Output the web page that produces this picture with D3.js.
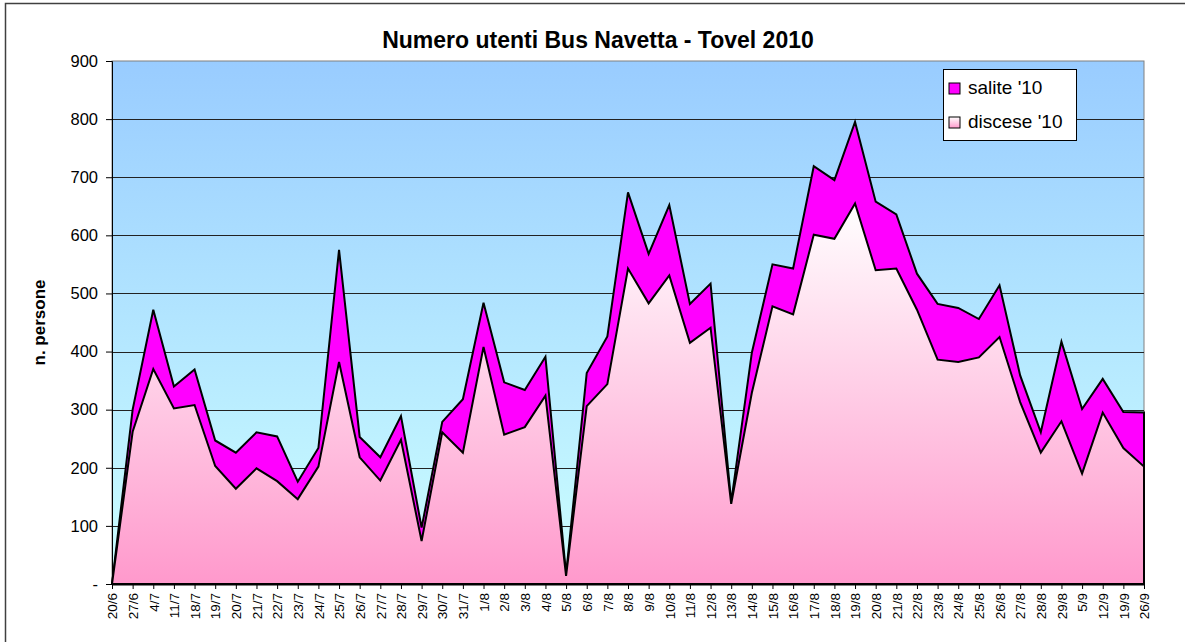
<!DOCTYPE html>
<html>
<head>
<meta charset="utf-8">
<script src="https://cdn.jsdelivr.net/npm/d3@7"></script>
<style>
  html, body { margin: 0; padding: 0; background: #fff; }
  svg { display: block; font-family: Arial, "Liberation Sans", sans-serif; }
</style>
</head>
<body>
<script>
const dates = ['20/6', '27/6', '4/7', '11/7', '18/7', '19/7', '20/7', '21/7', '22/7', '23/7',
  '24/7', '25/7', '26/7', '27/7', '28/7', '29/7', '30/7', '31/7', '1/8', '2/8', '3/8', '4/8',
  '5/8', '6/8', '7/8', '8/8', '9/8', '10/8', '11/8', '12/8', '13/8', '14/8', '15/8', '16/8',
  '17/8', '18/8', '19/8', '20/8', '21/8', '22/8', '23/8', '24/8', '25/8', '26/8', '27/8',
  '28/8', '29/8', '5/9', '12/9', '19/9', '26/9'];

// upper outline of the chart
const salite = [0, 300, 472, 340, 369, 247, 226, 261, 254, 176,
  234, 575, 253, 218, 289, 97, 279, 318, 484, 347, 334, 391,
  17, 363, 426, 674, 568, 652, 482, 517, 141, 398, 550, 543,
  719, 695, 795, 658, 636, 534, 482, 475, 456, 514, 359,
  261, 417, 301, 353, 296, 295];

const discese = [0, 262, 370, 302, 308, 203, 164, 199, 177, 146,
  202, 382, 218, 178, 248, 74, 261, 226, 408, 257, 270, 324,
  14, 306, 344, 543, 483, 531, 415, 441, 138, 329, 478, 464,
  601, 594, 655, 540, 543, 472, 386, 382, 390, 425, 313,
  226, 280, 190, 295, 234, 202];

const yTicks = [0, 100, 200, 300, 400, 500, 600, 700, 800, 900];

const series = [
  { name: "salite '10", values: salite, fill: '#FF00FF' },
  { name: "discese '10", values: discese, fill: 'url(#pinkGrad)' },
];

const W = 1185, H = 642;
const plot = { left: 112, right: 1144, top: 61, bottom: 584 };

const svg = d3.select('body').append('svg')
  .attr('width', W)
  .attr('height', H);

const defs = svg.append('defs');
const bg = defs.append('linearGradient')
  .attr('id', 'skyGrad').attr('x1', 0).attr('y1', 0).attr('x2', 0).attr('y2', 1);
bg.append('stop').attr('offset', '0%').attr('stop-color', '#99CCFF');
bg.append('stop').attr('offset', '100%').attr('stop-color', '#CCFFFF');

const pink = defs.append('linearGradient')
  .attr('id', 'pinkGrad').attr('x1', 0).attr('y1', 0).attr('x2', 0).attr('y2', 1);
pink.append('stop').attr('offset', '0%').attr('stop-color', '#FFFFFF');
pink.append('stop').attr('offset', '100%').attr('stop-color', '#FF99CC');

// outer frame (right and bottom sides fall outside the picture)
svg.append('rect')
  .attr('x', 5.5).attr('y', 3.5)
  .attr('width', W + 40).attr('height', H + 40)
  .attr('fill', 'none')
  .attr('stroke', '#404040')
  .attr('stroke-width', 1.5);

const x = d3.scalePoint()
  .domain(dates)
  .range([plot.left, plot.right]);

const y = d3.scaleLinear()
  .domain([0, 900])
  .range([plot.bottom, plot.top]);

// plot background
svg.append('rect')
  .attr('x', plot.left).attr('y', plot.top)
  .attr('width', plot.right - plot.left)
  .attr('height', plot.bottom - plot.top)
  .attr('fill', 'url(#skyGrad)')
  .attr('stroke', '#808080')
  .attr('stroke-width', 1);

// gridlines
svg.append('g')
  .selectAll('line')
  .data(yTicks.filter(d => d > 0 && d < 900))
  .join('line')
  .attr('x1', plot.left).attr('x2', plot.right)
  .attr('y1', d => Math.round(y(d)) + 0.5)
  .attr('y2', d => Math.round(y(d)) + 0.5)
  .attr('stroke', '#222')
  .attr('stroke-width', 1);

const area = d3.area()
  .x((d, i) => x(dates[i]))
  .y0(y(0))
  .y1(d => y(d));

svg.append('g')
  .selectAll('path')
  .data(series)
  .join('path')
  .attr('d', d => area(d.values) + 'Z')
  .attr('fill', d => d.fill)
  .attr('stroke', '#000')
  .attr('stroke-width', 2)
  .attr('stroke-linejoin', 'miter');

// y axis
const yAxis = svg.append('g')
  .attr('transform', `translate(${plot.left},0)`)
  .call(d3.axisLeft(y).tickValues(yTicks).tickSize(6).tickPadding(8)
    .tickFormat(d => d === 0 ? '-' : d));
yAxis.select('.domain').attr('stroke', '#000');
yAxis.selectAll('text')
  .attr('font-size', 16.5)
  .attr('fill', '#000')
  .attr('font-family', 'Arial, "Liberation Sans", sans-serif');

// x axis
const xAxis = svg.append('g')
  .attr('transform', `translate(0,${plot.bottom})`)
  .call(d3.axisBottom(x).tickSize(5).tickSizeOuter(0));
xAxis.select('.domain').attr('stroke', '#000').attr('stroke-width', 2);
xAxis.selectAll('text')
  .attr('font-size', 13.5)
  .attr('fill', '#000')
  .attr('font-family', 'Arial, "Liberation Sans", sans-serif')
  .attr('text-anchor', 'end')
  .attr('dy', '0.35em')
  .attr('transform', 'translate(0,9) rotate(-90)')
  .attr('x', 0).attr('y', 0);

// title
svg.append('text')
  .attr('x', 598).attr('y', 48)
  .attr('text-anchor', 'middle')
  .attr('font-size', 23)
  .attr('font-weight', 'bold')
  .text('Numero utenti Bus Navetta - Tovel 2010');

svg.append('text')
  .attr('transform', `translate(45,${(plot.top + plot.bottom) / 2}) rotate(-90)`)
  .attr('text-anchor', 'middle')
  .attr('font-size', 17)
  .attr('font-weight', 'bold')
  .text('n. persone');

// legend
const legend = svg.append('g').attr('transform', 'translate(943,69)');
legend.append('rect')
  .attr('x', 0.5).attr('y', 0.5)
  .attr('width', 133).attr('height', 71)
  .attr('fill', '#fff')
  .attr('stroke', '#000');
const items = legend.selectAll('g.item')
  .data(series)
  .join('g')
  .attr('class', 'item')
  .attr('transform', (d, i) => `translate(6,${14 + i * 34})`);
items.append('rect')
  .attr('width', 11).attr('height', 11)
  .attr('fill', d => d.fill)
  .attr('stroke', '#000');
items.append('text')
  .attr('x', 19).attr('y', 11)
  .attr('font-size', 19)
  .text(d => d.name);
</script>
</body>
</html>
